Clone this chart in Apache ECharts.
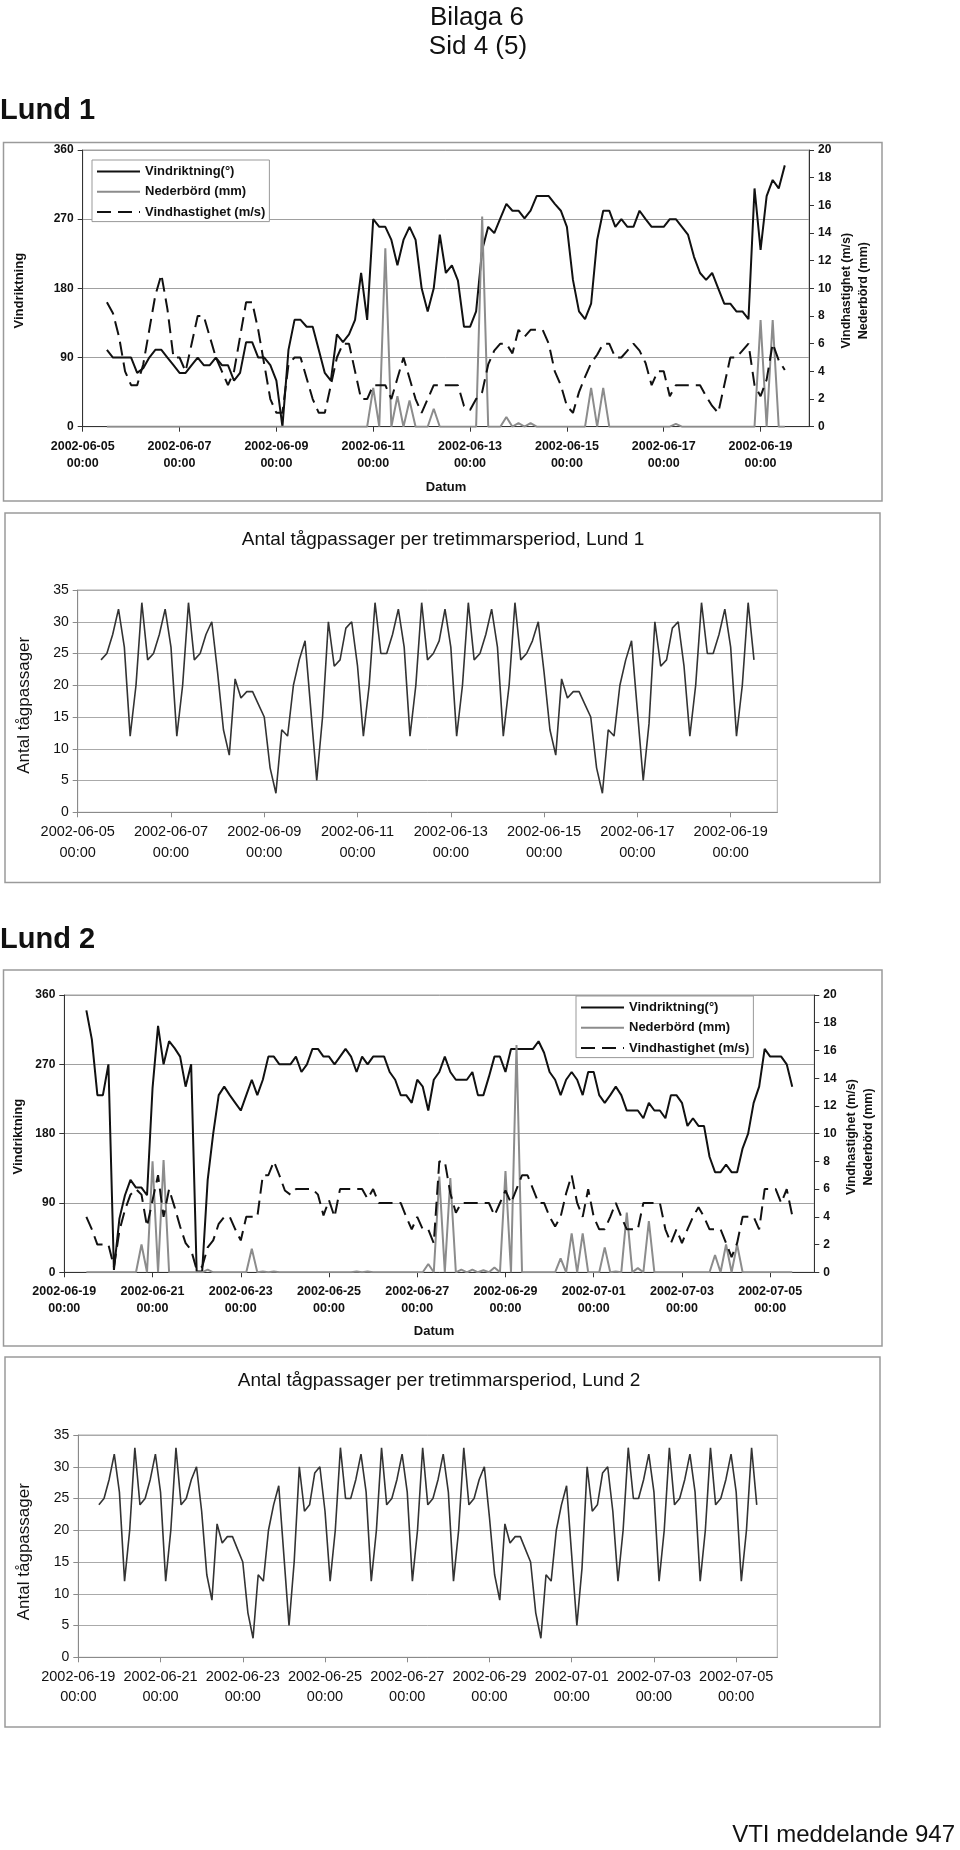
<!DOCTYPE html>
<html>
<head>
<meta charset="utf-8">
<title>Bilaga 6 - Lund</title>
<script src="https://cdn.jsdelivr.net/npm/echarts/dist/echarts.min.js"></script>
<style>
  html, body { margin: 0; padding: 0; background: #fff; }
  #chart { width: 960px; height: 1850px; }
</style>
</head>
<body>
<div id="chart"></div>
<script>
// ---------- DATA (3-hour steps; index 0 = first date 00:00) ----------
const lund1Start = [2002, 6, 5];   // axis 2002-06-05 00:00 .. 2002-06-20 00:00
const lund1Steps = 120;
const lund2Start = [2002, 6, 19];  // axis 2002-06-19 00:00 .. 2002-07-06 00:00
const lund2Steps = 136;

const lund1Direction = [null, null, null, null,
  100, 90, 90, 90, 90, 70, 76, 90,
  100, 100, 90, 80, 70, 70, 80, 90,
  80, 80, 90, 80, 80, 60, 70, 110,
  110, 90, 90, 80, 60, 0, 100, 139,
  139, 130, 130, 100, 70, 60, 120, 110,
  120, 139, 200, 139, 270, 260, 260, 243,
  210, 243, 260, 243, 180, 150, 180, 250,
  200, 210, 190, 130, 130, 150, 230, 260,
  252, 271, 290, 281, 281, 271, 281, 300,
  300, 300, 290, 281, 260, 191, 150, 140,
  160, 243, 281, 281, 260, 270, 260, 260,
  281, 270, 260, 260, 260, 270, 270, 260,
  250, 221, 200, 191, 200, 180, 160, 160,
  150, 150, 140, 310, 230, 300, 321, 310,
  340];

const lund1Rain = [null, null, null, null,
  0, 0, 0, 0, 0, 0, 0, 0,
  0, 0, 0, 0, 0, 0, 0, 0,
  0, 0, 0, 0, 0, 0, 0, 0,
  0, 0, 0, 0, 0, 0, 0, 0,
  0, 0, 0, 0, 0, 0, 0, 0,
  0, 0, 0, 0, 2.8, 0, 12.9, 0,
  2.2, 0, 1.9, 0, 0, 0, 1.3, 0,
  0, 0, 0, 0, 0, 0, 15.2, 0,
  0, 0, 0.7, 0, 0.25, 0, 0.25, 0,
  0, 0, 0, 0, 0, 0, 0, 0,
  2.8, 0, 2.8, 0, 0, 0, 0, 0,
  0, 0, 0, 0, 0, 0, 0.2, 0,
  0, 0, 0, 0, 0, 0, 0, 0,
  0, 0, 0, 0, 7.7, 0, 7.7, 0,
  0];

const lund1Wind = [null, null, null, null,
  9.0, 8.2, 6.5, 4.0, 3.0, 3.0, 4.5, 7.0,
  9.5, 11.0, 8.5, 5.0, 5.0, 4.0, 6.0, 8.0,
  8.0, 6.5, 5.0, 4.0, 3.0, 4.0, 6.5, 9.0,
  9.0, 7.0, 4.5, 2.0, 1.0, 1.0, 4.5, 5.0,
  5.0, 3.5, 2.0, 1.0, 1.0, 3.0, 5.0, 6.0,
  6.0, 4.0, 2.0, 2.0, 3.0, 3.0, 3.0, 2.0,
  3.5, 5.0, 3.5, 2.0, 1.0, 2.0, 3.0, 3.0,
  3.0, 3.0, 3.0, 1.5, 1.2, 2.0, 2.5, 4.5,
  5.5, 6.0, 6.0, 5.3, 7.0, 6.5, 7.0, 7.0,
  7.0, 6.0, 4.0, 3.0, 1.5, 1.0, 2.5, 3.6,
  4.6, 5.2, 6.0, 6.0, 5.0, 5.0, 5.5, 6.0,
  5.5, 4.6, 3.0, 4.0, 4.0, 2.2, 3.0, 3.0,
  3.0, 3.0, 3.0, 2.2, 1.5, 1.0, 3.0, 5.0,
  5.0, 5.5, 6.0, 3.0, 2.2, 3.4, 6.0, 4.8,
  4.1];

const lund1Trains = [null, null, null, null,
  24, 25, 28, 32,
  26, 12, 20, 33, 24, 25, 28, 32,
  26, 12, 20, 33, 24, 25, 28, 30,
  22, 13, 9, 21, 18, 19, 19, 17,
  15, 7, 3, 13, 12, 20, 24, 27,
  16, 5, 15, 30, 23, 24, 29, 30,
  23, 12, 20, 33, 25, 25, 28, 32,
  26, 12, 20, 33, 24, 25, 27, 32,
  26, 12, 20, 33, 24, 25, 28, 32,
  26, 12, 20, 33, 24, 25, 27, 30,
  22, 13, 9, 21, 18, 19, 19, 17,
  15, 7, 3, 13, 12, 20, 24, 27,
  16, 5, 14, 30, 23, 24, 29, 30,
  23, 12, 20, 33, 25, 25, 28, 32,
  26, 12, 20, 33, 24];

const lund2Direction = [null, null, null, null,
  340, 302, 230, 230, 270, 3, 70, 100,
  120, 110, 110, 100, 239, 320, 270, 300,
  291, 280, 241, 270, 1, 1, 120, 180,
  230, 241, 230, 220, 210, 230, 250, 230,
  250, 280, 280, 270, 270, 270, 280, 260,
  270, 290, 290, 280, 280, 270, 280, 290,
  280, 260, 280, 270, 280, 280, 280, 260,
  250, 230, 230, 220, 250, 241, 210, 250,
  260, 280, 260, 250, 250, 250, 260, 230,
  230, 254, 280, 280, 260, 290, 290, 290,
  290, 290, 300, 285, 260, 250, 230, 250,
  260, 250, 230, 260, 260, 230, 220, 230,
  241, 230, 210, 210, 210, 200, 220, 210,
  210, 200, 230, 230, 220, 190, 200, 190,
  190, 150, 130, 130, 140, 130, 130, 161,
  180, 220, 241, 290, 280, 280, 280, 270,
  241];

const lund2Rain = [null, null, null, null,
  0, 0, 0, 0, 0, 0, 0, 0,
  0, 0, 2.0, 0, 8.0, 0, 8.1, 0,
  0, 0, 0, 0, 0, 0, 0.2, 0,
  0, 0, 0, 0, 0, 0, 1.7, 0,
  0.05, 0, 0.05, 0, 0, 0, 0, 0,
  0, 0, 0, 0, 0, 0, 0, 0,
  0, 0.05, 0, 0.05, 0, 0, 0, 0,
  0, 0, 0, 0, 0, 0, 0.6, 0,
  6.9, 0, 6.8, 0, 0.2, 0, 0.2, 0,
  0.15, 0, 0.35, 0, 7.3, 0, 16.4, 0,
  0, 0, 0, 0, 0, 0, 1.0, 0,
  2.8, 0, 2.8, 0, 0, 0, 1.8, 0,
  0.05, 0, 4.3, 0, 0.3, 0, 3.7, 0,
  0, 0, 0, 0, 0, 0, 0, 0,
  0, 0, 1.25, 0, 2.0, 0, 2.0, 0,
  0, 0, 0, 0, 0, 0, 0, 0,
  0];

const lund2Wind = [null, null, null, null,
  4.0, 3.1, 2.0, 2.0, 2.0, 0.4, 3.0, 4.5,
  5.6, 6.0, 5.6, 3.3, 5.2, 7.0, 4.0, 6.0,
  4.7, 3.3, 2.1, 1.6, 0.2, 0.4, 1.8, 2.3,
  3.5, 4.0, 4.0, 3.1, 2.3, 4.0, 4.0, 4.0,
  7.0, 7.0, 8.0, 7.0, 5.9, 5.6, 6.0, 6.0,
  6.0, 6.0, 5.6, 4.1, 5.2, 4.0, 6.0, 6.0,
  6.0, 6.0, 6.0, 5.3, 6.0, 5.0, 5.0, 5.0,
  5.0, 5.0, 4.0, 3.1, 4.0, 3.1, 3.1, 2.1,
  8.0, 8.0, 5.7, 4.3, 5.0, 5.0, 5.0, 5.0,
  5.0, 5.0, 4.1, 5.0, 5.9, 5.0, 6.0, 7.0,
  7.0, 6.0, 5.0, 5.0, 4.0, 3.3, 4.0, 5.7,
  7.0, 5.0, 4.0, 6.0, 4.0, 3.1, 3.1, 4.0,
  5.0, 4.0, 3.1, 3.1, 3.1, 5.0, 5.0, 5.0,
  5.0, 3.1, 2.1, 3.1, 2.1, 3.1, 4.0, 4.7,
  4.0, 3.1, 3.1, 3.1, 2.1, 1.1, 2.1, 4.0,
  4.0, 4.0, 3.1, 6.0, 6.0, 6.0, 5.0, 6.0,
  4.1];

const lund2Trains = [null, null, null, null,
  24, 25, 28, 32,
  26, 12, 20, 33, 24, 25, 28, 32,
  26, 12, 20, 33, 24, 25, 28, 30,
  23, 13, 9, 21, 18, 19, 19, 17,
  15, 7, 3, 13, 12, 20, 24, 27,
  16, 5, 15, 30, 23, 24, 29, 30,
  23, 12, 20, 33, 25, 25, 28, 32,
  26, 12, 20, 33, 24, 25, 28, 32,
  26, 12, 20, 33, 24, 25, 28, 32,
  26, 12, 20, 33, 24, 25, 28, 30,
  22, 13, 9, 21, 18, 19, 19, 17,
  15, 7, 3, 13, 12, 20, 24, 27,
  16, 5, 14, 30, 23, 24, 29, 30,
  23, 12, 20, 33, 25, 25, 28, 32,
  26, 12, 20, 33, 24, 25, 28, 32,
  26, 12, 20, 33, 24, 25, 28, 32,
  26, 12, 20, 33, 24];

const dirTicks = { min: 0, max: 360, interval: 90 };
const rightTicks = { min: 0, max: 20, interval: 2 };
const trainTicks = { min: 0, max: 35, interval: 5 };
const legendNames = ['Vindriktning(°)', 'Nederbörd (mm)', 'Vindhastighet (m/s)'];

// ---------- helpers ----------
function timeCats(start, steps) {
  const out = [];
  const p = n => String(n).padStart(2, '0');
  for (let i = 0; i <= steps; i++) {
    const t = new Date(Date.UTC(start[0], start[1] - 1, start[2], i * 3));
    out.push(t.getUTCFullYear() + '-' + p(t.getUTCMonth() + 1) + '-' + p(t.getUTCDate()) +
      '\n' + p(t.getUTCHours()) + ':00');
  }
  return out;
}
const cats1 = timeCats(lund1Start, lund1Steps);
const cats2 = timeCats(lund2Start, lund2Steps);

const FF = "'Liberation Sans', Arial, Helvetica, sans-serif";
const every2days = (i) => i % 16 === 0;

function weatherX(gridIndex, cats, margin) {
  return {
    type: 'category', gridIndex, data: cats, boundaryGap: false,
    axisLine: { lineStyle: { color: '#333', width: 1 } },
    axisTick: { interval: every2days, length: 5, lineStyle: { color: '#333' } },
    axisLabel: { interval: every2days, margin, fontFamily: FF, fontWeight: 'bold',
      fontSize: 12.5, lineHeight: 17, color: '#111' },
    splitLine: { show: false }
  };
}
function trainX(gridIndex, cats, margin, lh) {
  return {
    type: 'category', gridIndex, data: cats, boundaryGap: false,
    axisLine: { lineStyle: { color: '#8a8a8a', width: 1 } },
    axisTick: { interval: every2days, length: 5, lineStyle: { color: '#8a8a8a' } },
    axisLabel: { interval: every2days, margin, fontFamily: FF,
      fontSize: 14.5, lineHeight: lh, color: '#111' },
    splitLine: { show: false }
  };
}
function leftDirAxis(gridIndex) {
  return {
    type: 'value', gridIndex, position: 'left', ...dirTicks,
    axisLine: { show: true, lineStyle: { color: '#333' } },
    axisTick: { show: true, length: 5, lineStyle: { color: '#333' } },
    axisLabel: { margin: 9, fontFamily: FF, fontWeight: 'bold', fontSize: 12, color: '#111' },
    splitLine: { show: true, lineStyle: { color: '#a0a0a0', width: 1 } }
  };
}
function rightAxis(gridIndex) {
  return {
    type: 'value', gridIndex, position: 'right', ...rightTicks,
    axisLine: { show: true, lineStyle: { color: '#333' } },
    axisTick: { show: true, length: 5, lineStyle: { color: '#333' } },
    axisLabel: { margin: 9, fontFamily: FF, fontWeight: 'bold', fontSize: 12, color: '#111' },
    splitLine: { show: false }
  };
}
function trainY(gridIndex) {
  return {
    type: 'value', gridIndex, ...trainTicks,
    axisLine: { show: true, lineStyle: { color: '#8a8a8a' } },
    axisTick: { show: true, length: 5, lineStyle: { color: '#8a8a8a' } },
    axisLabel: { margin: 9, fontFamily: FF, fontSize: 14, color: '#111' },
    splitLine: { show: true, lineStyle: { color: '#aaaaaa', width: 1 } }
  };
}
function weatherSeries(xi, yl, yr, dir, rain, wind) {
  return [
    { name: legendNames[0], type: 'line', xAxisIndex: xi, yAxisIndex: yl, data: dir,
      symbol: 'none', itemStyle: { color: '#111' }, lineStyle: { color: '#111', width: 2 } },
    { name: legendNames[1], type: 'line', xAxisIndex: xi, yAxisIndex: yr, data: rain,
      symbol: 'none', itemStyle: { color: '#8c8c8c' }, lineStyle: { color: '#8c8c8c', width: 2 } },
    { name: legendNames[2], type: 'line', xAxisIndex: xi, yAxisIndex: yr, data: wind,
      symbol: 'none', itemStyle: { color: '#111' }, lineStyle: { color: '#111', width: 2, type: [14, 7] } }
  ];
}
function legendAt(left, top) {
  return {
    left, top, orient: 'vertical', data: legendNames, selectedMode: false,
    itemWidth: 43, itemHeight: 14, itemGap: 7.3, padding: [5, 4, 3, 4],
    borderColor: '#999', borderWidth: 1, backgroundColor: '#fff',
    itemStyle: { color: 'rgba(0,0,0,0)', borderWidth: 0, opacity: 0 },
    lineStyle: { width: 2 },
    textStyle: { fontFamily: FF, fontWeight: 'bold', fontSize: 13, color: '#111' }
  };
}
function txt(text, x, y, font, opts) {
  opts = opts || {};
  return {
    type: 'text', x, y, rotation: opts.rot || 0, silent: true,
    style: { text, font: font, fill: '#111',
      textAlign: opts.align || 'center', align: opts.align || 'center',
      textVerticalAlign: 'middle', verticalAlign: 'middle' }
  };
}
function box(x, y, w, h) {
  return { type: 'rect', silent: true, z: -1, shape: { x, y, width: w, height: h },
    style: { fill: 'none', stroke: '#9a9a9a', lineWidth: 1.5 } };
}

const R90 = Math.PI / 2;
const bold13 = "bold 13px " + FF;
const bold12 = "bold 12.5px " + FF;

const option = {
  animation: false,
  backgroundColor: '#fff',
  grid: [
    { left: 82.7, top: 150, width: 726.3, height: 276.7, show: true, borderColor: '#a0a0a0', borderWidth: 1 },
    { left: 77.7, top: 590, width: 699.6, height: 222.3, show: true, borderColor: '#aaaaaa', borderWidth: 1 },
    { left: 64.3, top: 995, width: 750, height: 277.3, show: true, borderColor: '#a0a0a0', borderWidth: 1 },
    { left: 78.3, top: 1435, width: 699, height: 222.3, show: true, borderColor: '#aaaaaa', borderWidth: 1 }
  ],
  xAxis: [
    weatherX(0, cats1, 11),
    trainX(1, cats1, 9, 21),
    weatherX(2, cats2, 11),
    trainX(3, cats2, 10, 20)
  ],
  yAxis: [
    leftDirAxis(0), rightAxis(0),
    trainY(1),
    leftDirAxis(2), rightAxis(2),
    trainY(3)
  ],
  legend: [ legendAt(92, 160), legendAt(576, 996) ],
  series: [
    ...weatherSeries(0, 0, 1, lund1Direction, lund1Rain, lund1Wind),
    { name: 'Antal tågpassager Lund 1', type: 'line', xAxisIndex: 1, yAxisIndex: 2, data: lund1Trains,
      symbol: 'none', lineStyle: { color: '#333', width: 1.6 }, itemStyle: { color: '#333' } },
    ...weatherSeries(2, 3, 4, lund2Direction, lund2Rain, lund2Wind),
    { name: 'Antal tågpassager Lund 2', type: 'line', xAxisIndex: 3, yAxisIndex: 5, data: lund2Trains,
      symbol: 'none', lineStyle: { color: '#333', width: 1.6 }, itemStyle: { color: '#333' } }
  ],
  graphic: [
    txt('Bilaga 6', 477, 18, "26px " + FF),
    txt('Sid 4 (5)', 478, 47, "26px " + FF),
    txt('Lund 1', 0, 111, "bold 29px " + FF, { align: 'left' }),
    box(3.5, 142.5, 878.5, 358.5),
    txt('Vindriktning', 19, 290.7, bold13, { rot: R90 }),
    txt('Vindhastighet (m/s)', 846.7, 290.7, bold12, { rot: R90 }),
    txt('Nederbörd (mm)', 863.3, 290.7, bold12, { rot: R90 }),
    txt('Datum', 446, 487.3, bold13),

    box(5, 513, 875, 369.5),
    txt('Antal tågpassager per tretimmarsperiod, Lund 1', 443, 540, "19px " + FF),
    txt('Antal tågpassager', 24, 705.3, "17px " + FF, { rot: R90 }),

    txt('Lund 2', 0, 940, "bold 29px " + FF, { align: 'left' }),
    box(3.5, 970, 878.5, 376),
    txt('Vindriktning', 18.3, 1136.7, bold13, { rot: R90 }),
    txt('Vindhastighet (m/s)', 851.7, 1137, bold12, { rot: R90 }),
    txt('Nederbörd (mm)', 868.3, 1137, bold12, { rot: R90 }),
    txt('Datum', 434, 1331.7, bold13),

    box(5, 1357, 875, 370),
    txt('Antal tågpassager per tretimmarsperiod, Lund 2', 439, 1381, "19px " + FF),
    txt('Antal tågpassager', 24, 1551.7, "17px " + FF, { rot: R90 }),

    txt('VTI meddelande 947', 955, 1835, "24px " + FF, { align: 'right' })
  ]
};

const chart = echarts.init(document.getElementById('chart'), null, { renderer: 'canvas', width: 960, height: 1850 });
chart.setOption(option);
</script>
</body>
</html>
